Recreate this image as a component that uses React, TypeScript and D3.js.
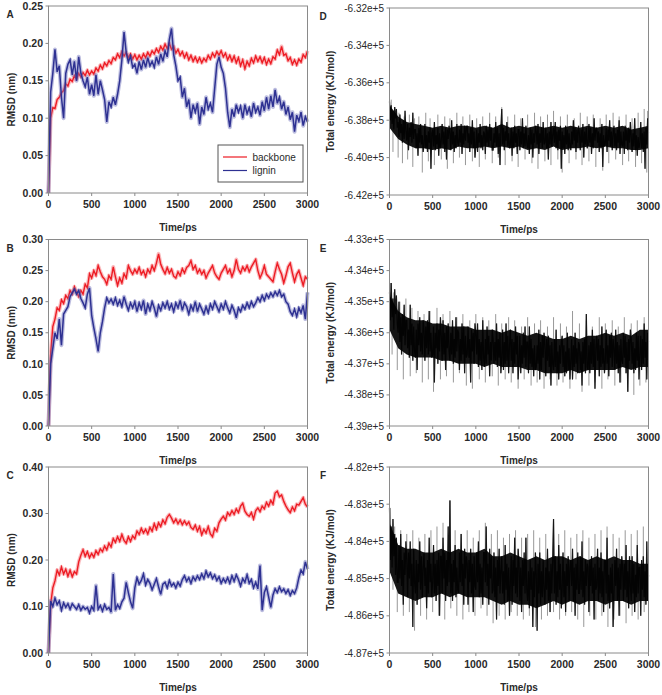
import React from 'react';
import * as d3 from 'd3';

// ---------- data ----------
const RMSD_STEP = 25; // ps between RMSD samples
const ENERGY_STEP = 10; // ps between energy samples
const CORE_STEP = 100; // ps between samples of the dense energy band
const xTicks = [0, 500, 1000, 1500, 2000, 2500, 3000];
const legendLabels = ['backbone', 'lignin'];

const aYTicks = [0, 0.05, 0.1, 0.15, 0.2, 0.25];
const bYTicks = [0, 0.05, 0.1, 0.15, 0.2, 0.25, 0.3];
const cYTicks = [0, 0.1, 0.2, 0.3, 0.4];
const dYTicks = [-642000, -640000, -638000, -636000, -634000, -632000];
const eYTicks = [-439000, -438000, -437000, -436000, -435000, -434000, -433000];
const fYTicks = [-487000, -486000, -485000, -484000, -483000, -482000];

const aBackbone = [0, 0.1, 0.114, 0.113, 0.125, 0.128, 0.134, 0.137, 0.146, 0.143, 0.152, 0.149, 0.157, 0.152, 0.16, 0.155, 0.161, 0.157, 0.164, 0.158, 0.163, 0.159, 0.167, 0.163, 0.171, 0.166, 0.174, 0.17, 0.177, 0.173, 0.181, 0.178, 0.186, 0.181, 0.189, 0.183, 0.188, 0.181, 0.186, 0.179, 0.185, 0.178, 0.184, 0.179, 0.186, 0.181, 0.188, 0.183, 0.19, 0.186, 0.193, 0.188, 0.196, 0.191, 0.199, 0.193, 0.2, 0.192, 0.196, 0.187, 0.192, 0.184, 0.189, 0.181, 0.187, 0.178, 0.184, 0.176, 0.182, 0.175, 0.181, 0.174, 0.18, 0.176, 0.184, 0.179, 0.187, 0.182, 0.189, 0.184, 0.19, 0.182, 0.187, 0.178, 0.184, 0.176, 0.183, 0.174, 0.181, 0.17, 0.178, 0.166, 0.176, 0.17, 0.18, 0.174, 0.183, 0.176, 0.182, 0.174, 0.181, 0.172, 0.179, 0.173, 0.182, 0.179, 0.191, 0.185, 0.196, 0.184, 0.186, 0.177, 0.181, 0.172, 0.178, 0.171, 0.179, 0.175, 0.185, 0.181, 0.19];
const aLignin = [0, 0.135, 0.16, 0.192, 0.162, 0.17, 0.128, 0.1, 0.16, 0.172, 0.178, 0.158, 0.176, 0.15, 0.182, 0.16, 0.15, 0.142, 0.155, 0.132, 0.145, 0.13, 0.158, 0.132, 0.15, 0.138, 0.125, 0.095, 0.122, 0.115, 0.128, 0.118, 0.132, 0.15, 0.178, 0.215, 0.188, 0.175, 0.183, 0.168, 0.172, 0.16, 0.176, 0.165, 0.178, 0.168, 0.181, 0.17, 0.176, 0.168, 0.182, 0.172, 0.186, 0.176, 0.19, 0.182, 0.205, 0.22, 0.185, 0.17, 0.15, 0.155, 0.128, 0.14, 0.115, 0.125, 0.1, 0.118, 0.108, 0.12, 0.092, 0.115, 0.105, 0.128, 0.112, 0.12, 0.108, 0.14, 0.172, 0.182, 0.168, 0.16, 0.14, 0.108, 0.088, 0.112, 0.102, 0.118, 0.108, 0.116, 0.1, 0.118, 0.106, 0.114, 0.102, 0.12, 0.108, 0.115, 0.104, 0.122, 0.11, 0.128, 0.112, 0.13, 0.115, 0.138, 0.12, 0.128, 0.112, 0.122, 0.105, 0.115, 0.098, 0.108, 0.082, 0.104, 0.096, 0.108, 0.09, 0.102, 0.095];

const bBackbone = [0, 0.115, 0.16, 0.172, 0.19, 0.186, 0.203, 0.197, 0.21, 0.205, 0.218, 0.212, 0.224, 0.215, 0.208, 0.218, 0.212, 0.228, 0.222, 0.245, 0.238, 0.25, 0.242, 0.258, 0.248, 0.24, 0.236, 0.228, 0.242, 0.236, 0.256, 0.24, 0.226, 0.238, 0.23, 0.245, 0.238, 0.258, 0.25, 0.244, 0.252, 0.246, 0.255, 0.244, 0.25, 0.24, 0.252, 0.246, 0.258, 0.25, 0.262, 0.277, 0.26, 0.252, 0.245, 0.255, 0.246, 0.252, 0.241, 0.238, 0.248, 0.242, 0.253, 0.246, 0.255, 0.258, 0.266, 0.252, 0.258, 0.246, 0.252, 0.244, 0.25, 0.238, 0.246, 0.252, 0.258, 0.246, 0.24, 0.236, 0.246, 0.252, 0.258, 0.246, 0.252, 0.24, 0.25, 0.268, 0.252, 0.246, 0.256, 0.25, 0.258, 0.248, 0.256, 0.262, 0.268, 0.25, 0.238, 0.246, 0.258, 0.244, 0.24, 0.236, 0.232, 0.248, 0.262, 0.252, 0.244, 0.23, 0.242, 0.256, 0.262, 0.246, 0.232, 0.244, 0.25, 0.238, 0.226, 0.24, 0.236];
const bLignin = [0, 0.1, 0.125, 0.15, 0.14, 0.172, 0.13, 0.18, 0.186, 0.192, 0.208, 0.214, 0.22, 0.212, 0.218, 0.205, 0.198, 0.19, 0.212, 0.222, 0.178, 0.158, 0.14, 0.12, 0.15, 0.168, 0.19, 0.206, 0.198, 0.204, 0.196, 0.206, 0.194, 0.202, 0.192, 0.208, 0.196, 0.186, 0.198, 0.19, 0.2, 0.184, 0.198, 0.188, 0.202, 0.18, 0.196, 0.186, 0.2, 0.19, 0.176, 0.194, 0.186, 0.198, 0.19, 0.2, 0.188, 0.196, 0.184, 0.198, 0.19, 0.202, 0.186, 0.198, 0.192, 0.18, 0.194, 0.186, 0.2, 0.184, 0.196, 0.188, 0.18, 0.192, 0.182, 0.196, 0.188, 0.2, 0.192, 0.184, 0.196, 0.188, 0.2, 0.19, 0.182, 0.194, 0.186, 0.174, 0.19, 0.184, 0.194, 0.188, 0.198, 0.19, 0.2, 0.192, 0.198, 0.206, 0.2, 0.21, 0.202, 0.212, 0.206, 0.214, 0.208, 0.216, 0.21, 0.218, 0.208, 0.212, 0.2, 0.196, 0.184, 0.178, 0.188, 0.176, 0.19, 0.182, 0.194, 0.172, 0.215];

const cBackbone = [0, 0.105, 0.14, 0.155, 0.178, 0.168, 0.185, 0.17, 0.18, 0.165, 0.178, 0.164, 0.175, 0.17, 0.196, 0.21, 0.222, 0.208, 0.218, 0.205, 0.214, 0.206, 0.22, 0.212, 0.224, 0.218, 0.23, 0.222, 0.236, 0.228, 0.246, 0.238, 0.25, 0.24, 0.255, 0.242, 0.236, 0.25, 0.24, 0.252, 0.246, 0.262, 0.255, 0.268, 0.258, 0.266, 0.256, 0.27, 0.262, 0.278, 0.266, 0.28, 0.272, 0.286, 0.278, 0.292, 0.298, 0.29, 0.28, 0.288, 0.278, 0.286, 0.276, 0.284, 0.276, 0.282, 0.27, 0.266, 0.275, 0.262, 0.272, 0.254, 0.266, 0.258, 0.272, 0.256, 0.25, 0.268, 0.262, 0.28, 0.288, 0.294, 0.286, 0.302, 0.296, 0.306, 0.298, 0.31, 0.302, 0.316, 0.322, 0.305, 0.298, 0.294, 0.302, 0.288, 0.306, 0.312, 0.304, 0.316, 0.31, 0.324, 0.316, 0.328, 0.32, 0.344, 0.348, 0.336, 0.34, 0.326, 0.316, 0.308, 0.302, 0.314, 0.306, 0.32, 0.318, 0.326, 0.334, 0.32, 0.314];
const cLignin = [0, 0.112, 0.1, 0.118, 0.104, 0.112, 0.092, 0.108, 0.098, 0.106, 0.094, 0.106, 0.1, 0.094, 0.104, 0.092, 0.1, 0.094, 0.098, 0.086, 0.1, 0.092, 0.145, 0.094, 0.102, 0.09, 0.104, 0.094, 0.098, 0.088, 0.17, 0.092, 0.104, 0.096, 0.11, 0.118, 0.152, 0.13, 0.11, 0.096, 0.14, 0.162, 0.148, 0.156, 0.17, 0.146, 0.158, 0.15, 0.136, 0.148, 0.16, 0.142, 0.126, 0.148, 0.152, 0.14, 0.156, 0.144, 0.15, 0.14, 0.152, 0.144, 0.158, 0.166, 0.154, 0.162, 0.15, 0.164, 0.156, 0.166, 0.158, 0.17, 0.16, 0.176, 0.164, 0.172, 0.16, 0.168, 0.156, 0.164, 0.15, 0.16, 0.152, 0.162, 0.15, 0.166, 0.154, 0.168, 0.158, 0.144, 0.16, 0.152, 0.168, 0.15, 0.158, 0.14, 0.152, 0.138, 0.188, 0.092, 0.13, 0.142, 0.12, 0.098, 0.125, 0.138, 0.13, 0.142, 0.132, 0.138, 0.128, 0.136, 0.124, 0.134, 0.128, 0.14, 0.162, 0.178, 0.17, 0.196, 0.18];

// total energy (kJ/mol), one value every 10 ps
const dEnergy = [
  -637000, -638000, -637200, -638200, -637500, -638500, -637300, -637900, -637400, -638400,
  -638100, -638900, -637700, -638700, -638200, -639200, -638000, -639000, -637500, -638600,
  -639100, -638200, -639600, -638400, -638900, -638100, -639200, -637600, -639000, -638500,
  -638500, -639500, -638700, -639900, -638400, -639200, -638200, -639300, -638800, -639700,
  -639300, -638200, -639500, -638800, -639700, -638600, -639200, -638400, -640600, -638700,
  -638500, -639400, -638100, -639600, -638800, -639300, -638400, -639900, -638700, -639500,
  -639100, -638200, -639300, -638600, -639700, -638400, -640100, -638500, -639000, -638300,
  -638700, -639600, -638000, -639300, -638600, -639700, -638800, -639500, -638200, -639200,
  -639400, -638500, -639200, -638200, -639800, -638700, -639300, -638300, -639100, -638400,
  -638300, -639200, -638700, -639700, -638400, -639300, -638000, -639500, -638600, -640000,
  -639400, -638500, -639700, -638700, -639200, -638200, -639500, -638800, -639600, -638600,
  -638700, -639800, -638300, -639200, -638500, -639400, -638200, -639100, -638400, -639600,
  -639600, -638700, -639200, -638100, -639400, -638400, -639800, -638700, -640400, -638500,
  -637400, -639300, -638400, -639600, -638600, -639100, -638100, -639400, -638700, -639500,
  -639300, -638400, -639900, -638600, -639500, -638300, -639200, -638700, -639800, -638500,
  -638500, -639600, -638600, -639300, -637900, -639500, -638700, -639400, -638300, -639200,
  -639500, -638800, -639800, -638400, -639300, -638500, -640000, -638700, -639200, -638300,
  -638600, -639300, -638200, -639800, -638700, -639200, -638400, -639500, -638100, -639300,
  -639200, -638400, -639500, -638700, -640100, -638600, -639300, -638100, -639400, -638800,
  -638400, -639200, -638100, -639500, -638600, -639600, -638500, -639100, -638300, -640600,
  -638600, -639500, -638800, -639800, -638300, -639300, -638500, -639600, -638700, -639400,
  -639600, -638600, -639300, -638000, -639100, -638400, -639700, -638500, -639200, -638300,
  -638700, -639600, -638500, -639200, -638200, -640000, -638600, -639300, -638400, -639500,
  -639300, -638200, -639200, -638400, -639800, -638700, -639500, -637900, -639100, -638500,
  -638400, -639200, -638600, -639700, -638700, -639500, -638200, -640500, -638800, -639400,
  -639200, -638400, -639700, -638500, -639100, -638000, -639400, -638600, -639600, -638700,
  -638300, -639400, -638700, -639600, -638500, -639200, -638000, -639800, -638600, -639300,
  -639400, -638600, -639800, -638300, -639100, -638500, -639600, -638400, -639200, -638100,
  -638900, -639700, -638700, -639400, -637900, -639600, -638800, -639900, -638900, -639500,
  -639200, -638100, -639500, -638700, -639700, -638600, -640600, -638400, -639300, -637900,
  -638700
];
const eEnergy = [
  -434700, -435600, -434400, -435500, -434900, -435900, -434600, -435400, -434800, -435700,
  -436000, -435000, -436300, -435500, -436700, -435400, -436100, -435100, -436400, -435600,
  -435600, -436500, -435900, -436800, -435100, -436400, -435700, -436900, -435800, -436600,
  -436800, -435900, -437200, -435700, -436400, -435500, -436600, -436000, -436700, -435600,
  -435900, -436900, -435800, -436500, -435600, -436700, -435300, -436600, -436000, -436800,
  -436700, -435800, -437600, -436000, -436500, -435700, -437000, -435900, -436600, -435500,
  -436100, -436900, -435600, -436700, -436000, -437200, -435800, -436500, -435700, -436600,
  -436900, -436000, -436700, -435600, -437000, -436200, -436800, -435500, -436600, -435900,
  -436000, -437200, -436200, -436900, -435700, -436700, -435800, -437300, -436100, -436800,
  -436700, -435800, -436800, -436200, -437600, -435900, -436600, -436000, -437000, -435700,
  -436000, -436700, -435700, -437100, -436200, -436900, -436300, -437200, -435600, -436800,
  -437100, -436200, -437000, -435800, -436700, -436100, -437400, -436300, -436900, -435900,
  -436200, -437000, -436300, -436900, -435700, -437100, -436200, -436800, -436000, -437300,
  -436800, -435900, -437200, -436300, -437000, -435700, -436900, -436100, -437300, -436400,
  -435900, -436900, -436200, -437300, -436300, -437000, -435800, -436700, -436100, -437500,
  -436900, -436100, -437300, -436400, -437000, -436000, -436800, -435800, -437100, -436300,
  -436300, -437300, -435800, -437000, -436200, -437100, -436500, -437400, -436400, -437200,
  -437100, -436400, -437000, -435900, -437500, -436300, -437200, -436100, -436800, -436000,
  -436400, -437400, -436200, -436900, -436100, -437100, -436400, -437700, -436300, -437000,
  -437200, -436200, -437100, -435900, -437300, -436600, -437500, -436400, -437000, -436300,
  -436100, -437100, -436400, -437400, -436600, -437300, -436000, -437200, -436500, -437500,
  -436900, -436200, -437500, -436400, -437100, -436000, -437000, -436500, -437300, -436300,
  -436400, -437200, -436600, -437700, -436300, -437000, -436200, -437300, -435400, -437100,
  -437200, -436400, -437300, -436300, -437000, -435900, -437100, -436200, -437800, -436500,
  -436100, -436900, -436200, -437400, -436400, -437100, -435800, -437000, -436500, -437300,
  -436900, -435900, -437000, -436400, -437400, -436100, -436800, -436000, -437100, -436200,
  -436500, -437200, -435900, -437000, -436300, -437300, -436400, -437600, -436200, -436900,
  -437000, -436000, -436800, -436100, -437300, -436300, -437900, -436200, -436900, -435900,
  -436200, -437000, -436300, -437300, -436500, -437200, -436000, -436900, -436100, -437500,
  -436700, -436100, -437200, -436200, -437000, -435700, -436800, -436300, -437500, -436000,
  -436300
];
const fEnergy = [
  -483100, -484500, -483600, -484700, -483400, -484400, -483800, -484900, -483900, -485100,
  -485100, -484100, -485000, -483800, -485200, -484500, -485700, -484300, -484900, -484000,
  -484500, -485500, -484300, -485000, -484000, -485200, -484600, -486300, -484200, -485100,
  -485400, -484500, -485700, -484600, -485100, -484000, -485300, -484400, -485500, -484700,
  -484300, -485200, -484700, -485800, -484500, -485400, -483900, -485100, -484600, -485500,
  -485100, -484100, -485400, -484600, -485600, -484500, -485200, -484300, -486000, -484400,
  -484400, -485400, -483900, -485000, -484300, -485600, -484500, -485200, -483600, -485100,
  -482900, -485400, -484600, -485600, -484500, -485100, -484100, -485500, -484700, -485300,
  -485400, -484300, -485100, -483800, -485200, -484600, -485700, -484200, -485000, -484400,
  -484600, -485700, -484500, -485100, -484200, -485400, -484600, -485900, -484400, -485200,
  -485300, -484300, -485100, -484000, -485500, -484600, -485400, -484700, -485700, -484300,
  -484300, -485100, -483600, -485200, -484600, -485700, -484200, -485000, -484400, -485400,
  -485300, -484300, -485500, -484700, -486100, -484500, -485200, -484200, -485400, -484800,
  -484400, -485400, -484800, -485700, -484100, -485300, -484600, -485600, -484700, -486000,
  -485100, -484400, -485700, -484500, -485200, -483900, -485400, -484700, -485500, -484200,
  -484600, -485600, -484700, -485900, -484500, -485200, -484300, -485400, -483900, -485300,
  -485600, -484800, -485800, -484500, -485300, -484700, -486300, -484800, -485500, -484300,
  -484900, -486400, -484600, -485400, -484300, -485700, -484800, -485500, -484500, -485300,
  -485700, -484700, -485300, -484200, -485600, -484800, -485900, -484600, -485400, -484500,
  -483400, -485400, -484400, -485700, -484800, -485500, -484100, -485300, -484600, -485800,
  -485300, -484300, -485500, -484800, -485900, -484600, -485200, -484400, -485600, -484700,
  -484500, -485200, -484200, -485600, -484700, -486000, -484600, -485300, -484300, -485400,
  -485400, -484400, -485300, -484000, -485500, -484800, -485700, -484500, -485200, -484600,
  -484700, -485900, -484500, -485200, -484400, -485400, -484700, -486100, -484600, -485300,
  -485200, -484200, -485600, -484700, -485400, -484300, -485500, -484800, -485900, -484500,
  -484500, -485400, -483900, -485600, -484900, -485800, -484700, -485400, -484600, -486300,
  -485400, -484500, -485200, -484200, -485600, -484700, -486000, -484600, -485300, -484400,
  -484700, -485600, -484600, -485300, -484100, -485500, -484800, -485800, -484400, -485200,
  -485600, -484400, -485400, -484600, -485900, -484900, -485500, -484100, -485400, -484700,
  -484700, -486000, -484500, -485300, -484400, -485500, -484800, -485700, -484000, -485600,
  -484900
];

// dense (solid black) part of each energy trace: upper and lower edge every 100 ps
const dCoreHi = [-637200, -637800, -638100, -638200, -638300, -638400, -638300, -638400, -638300, -638300, -638400, -638300, -638400, -638200, -638400, -638300, -638400, -638300, -638400, -638300, -638400, -638300, -638400, -638300, -638400, -638300, -638400, -638300, -638500, -638400, -638300];
const dCoreLo = [-638400, -639000, -639300, -639500, -639500, -639600, -639500, -639600, -639400, -639500, -639500, -639400, -639500, -639400, -639500, -639400, -639600, -639500, -639600, -639400, -639600, -639500, -639500, -639400, -639500, -639400, -639500, -639500, -639600, -639600, -639500];
const eCoreHi = [-434800, -435300, -435500, -435600, -435600, -435700, -435700, -435800, -435800, -435800, -435900, -435900, -435900, -436000, -435900, -436000, -436100, -436000, -436100, -436200, -436200, -436100, -436200, -436100, -436100, -436000, -436100, -436000, -436100, -435900, -435900];
const eCoreLo = [-435900, -436500, -436700, -436800, -436800, -436800, -436900, -436900, -437000, -437000, -437000, -437100, -437000, -437100, -437100, -437100, -437200, -437200, -437300, -437300, -437300, -437200, -437300, -437200, -437200, -437200, -437200, -437100, -437200, -437100, -437100];
const fCoreHi = [-483500, -484100, -484200, -484200, -484300, -484300, -484200, -484300, -484200, -484300, -484300, -484200, -484400, -484400, -484300, -484400, -484500, -484400, -484500, -484400, -484400, -484500, -484400, -484500, -484400, -484500, -484400, -484500, -484500, -484600, -484600];
const fCoreLo = [-484800, -485400, -485500, -485600, -485500, -485500, -485400, -485500, -485400, -485500, -485500, -485500, -485600, -485700, -485600, -485700, -485700, -485800, -485700, -485600, -485700, -485600, -485700, -485600, -485600, -485700, -485600, -485600, -485700, -485600, -485600];

// isolated excursions visible outside the dense band: [time ps, energy kJ/mol]
const dOutliers = [[20, -636900], [60, -637300], [110, -637600], [170, -637800], [230, -637700], [290, -637900], [340, -637800], [420, -637600], [470, -637900], [560, -637700], [640, -637800], [700, -637900], [780, -637600], [850, -637800], [930, -637700], [1010, -637900], [1080, -637800], [1160, -637600], [1230, -637800], [1300, -637300], [1370, -637800], [1450, -637700], [1520, -637900], [1600, -637700], [1680, -637600], [1750, -637800], [1830, -637700], [1900, -637500], [1980, -637800], [2060, -637700], [2140, -637900], [2210, -637600], [2290, -637800], [2360, -637700], [2440, -637900], [2510, -637700], [2590, -637600], [2660, -637800], [2740, -637700], [2810, -637900], [2880, -637600], [2950, -637400], [2990, -637500], [40, -639700], [100, -640000], [150, -640300], [210, -640100], [270, -640500], [380, -640800], [450, -640200], [520, -640400], [600, -640100], [670, -640600], [740, -640300], [810, -640000], [880, -640400], [960, -640200], [1040, -640500], [1110, -640100], [1190, -640300], [1260, -640000], [1340, -640400], [1420, -640200], [1490, -640500], [1570, -640100], [1650, -640300], [1720, -640600], [1800, -640200], [1870, -640400], [1950, -640100], [2000, -640800], [2080, -640300], [2160, -640100], [2230, -640400], [2310, -640200], [2390, -640500], [2470, -640700], [2540, -640300], [2620, -640100], [2700, -640400], [2770, -640200], [2850, -640500], [2920, -640300], [2980, -640800]];
const eOutliers = [[10, -434400], [50, -434700], [120, -435000], [190, -434900], [260, -435200], [330, -435300], [400, -435400], [470, -435300], [550, -435200], [620, -435400], [700, -435300], [780, -435500], [850, -435400], [930, -435600], [1000, -435400], [1080, -435500], [1150, -435600], [1230, -435400], [1300, -435700], [1380, -435500], [1450, -435600], [1530, -435800], [1600, -435500], [1680, -435700], [1750, -435600], [1830, -435800], [1900, -435500], [1980, -435700], [2050, -435800], [2120, -435300], [2200, -435700], [2280, -435600], [2350, -435800], [2430, -435500], [2500, -435700], [2580, -435600], [2650, -435800], [2720, -435500], [2800, -435700], [2870, -435600], [2950, -435500], [30, -436700], [90, -437200], [160, -437500], [240, -437400], [310, -437300], [380, -437600], [450, -437500], [510, -437900], [590, -437500], [660, -437400], [740, -437600], [810, -437300], [890, -437700], [960, -437800], [1040, -437500], [1110, -437600], [1190, -437400], [1260, -437700], [1340, -437500], [1410, -437600], [1490, -437800], [1560, -437500], [1640, -437700], [1710, -437600], [1790, -437800], [1860, -437500], [1940, -437700], [2010, -437600], [2090, -437800], [2160, -437500], [2230, -437900], [2310, -437700], [2380, -437600], [2460, -437800], [2530, -437500], [2610, -437700], [2680, -437600], [2760, -437900], [2830, -438000], [2900, -437700], [2970, -437600]];
const fOutliers = [[10, -483100], [60, -483600], [130, -483700], [200, -483800], [270, -483700], [340, -483900], [410, -483800], [480, -483700], [550, -483600], [620, -483500], [700, -482900], [760, -483700], [830, -483800], [900, -483700], [970, -483900], [1040, -483700], [1110, -483500], [1180, -483800], [1250, -483700], [1320, -483900], [1390, -483800], [1460, -483700], [1530, -483900], [1600, -483800], [1670, -483700], [1740, -483900], [1810, -483800], [1900, -483400], [1960, -483800], [2030, -483700], [2100, -483900], [2170, -483800], [2240, -483700], [2310, -483900], [2380, -483800], [2450, -483700], [2520, -483600], [2590, -483800], [2660, -483900], [2730, -483700], [2800, -483800], [2870, -483700], [2940, -483600], [40, -485300], [90, -485900], [160, -486000], [230, -485900], [290, -486400], [360, -486000], [430, -486100], [500, -485900], [570, -486000], [640, -486100], [710, -485800], [780, -486000], [850, -486100], [920, -485900], [990, -486000], [1060, -485800], [1130, -486000], [1200, -486200], [1270, -486000], [1340, -486100], [1410, -485900], [1480, -486000], [1550, -486100], [1620, -486000], [1690, -486300], [1760, -486100], [1830, -486000], [1900, -485900], [1970, -486100], [2040, -486000], [2110, -485900], [2180, -486100], [2250, -486300], [2320, -486000], [2390, -486100], [2460, -486000], [2530, -486300], [2600, -486100], [2670, -486000], [2740, -486200], [2810, -486000], [2880, -486100], [2950, -485900]];

// ---------- styling ----------
const FONT = 'Liberation Sans, Arial, Helvetica, sans-serif';
const RED = '#ed1c24';
const BLUE = '#2e3192';
const AXIS = '#8a8a8a';
const TEXT = '#2a2a2a';

const LEFT = { x0: 48.5, x1: 307.5 };
const RIGHT = { x0: 389.5, x1: 648.5 };

function Axes({ f, x, y, yTicks, fmt, yBold, yTitle, letter, letterX, titleX }: any) {
  return (
    <g>
      <rect x={f.x0} y={f.top} width={f.x1 - f.x0} height={f.bottom - f.top} fill="none" stroke={AXIS} strokeWidth={1} />
      {yTicks.map((t: number) => (
        <g key={'y' + t}>
          <line x1={f.x0 - 3} x2={f.x0} y1={y(t)} y2={y(t)} stroke={AXIS} />
          <text x={f.x0 - 5.5} y={y(t)} dy="0.35em" textAnchor="end" fontSize={yBold ? 10.5 : 10} fontWeight={yBold ? 'bold' : 'normal'} fill={TEXT} fontFamily={FONT}>
            {fmt(t)}
          </text>
        </g>
      ))}
      {xTicks.map((t) => (
        <g key={'x' + t}>
          <line x1={x(t)} x2={x(t)} y1={f.bottom} y2={f.bottom + 3} stroke={AXIS} />
          <text x={x(t)} y={f.bottom + 14.5} textAnchor="middle" fontSize={10.5} fontWeight="bold" fill={TEXT} fontFamily={FONT}>
            {t}
          </text>
        </g>
      ))}
      <text x={(f.x0 + f.x1) / 2} y={f.bottom + 37.5} textAnchor="middle" fontSize={10} fontWeight="bold" fill={TEXT} fontFamily={FONT}>
        Time/ps
      </text>
      <text transform={`translate(${titleX},${(f.top + f.bottom) / 2}) rotate(-90)`} textAnchor="middle" fontSize={10} fontWeight="bold" fill={TEXT} fontFamily={FONT}>
        {yTitle}
      </text>
      <text x={letterX} y={f.top + 12} textAnchor="middle" fontSize={10} fontWeight="bold" fill={TEXT} fontFamily={FONT}>
        {letter}
      </text>
    </g>
  );
}

function RmsdPanel({ f, yMax, yTicks, backbone, lignin, letter, legend }: any) {
  const x = d3.scaleLinear().domain([0, 3000]).range([f.x0, f.x1]);
  const y = d3.scaleLinear().domain([0, yMax]).range([f.bottom, f.top]);
  const line = d3.line<number>().x((_, i) => x(i * RMSD_STEP)).y((d) => y(d));
  const fmt = d3.format('.2f');
  return (
    <g>
      <path d={line(backbone) || ''} fill="none" stroke={RED} strokeOpacity={0.3} strokeWidth={3.8} strokeLinejoin="round" />
      <path d={line(backbone) || ''} fill="none" stroke={RED} strokeWidth={1.4} />
      <path d={line(lignin) || ''} fill="none" stroke="#6a6db8" strokeOpacity={0.45} strokeWidth={4} strokeLinejoin="round" />
      <path d={line(lignin) || ''} fill="none" stroke={BLUE} strokeWidth={1.5} />
      <Axes f={f} x={x} y={y} yTicks={yTicks} fmt={fmt} yBold yTitle="RMSD (nm)" letter={letter} letterX={10} titleX={15} />
      {legend && (
        <g fontFamily={FONT} fontSize={10} fill={TEXT}>
          <rect x={218} y={145} width={85} height={37} fill="#fff" stroke="#555" strokeWidth={1} />
          <line x1={223} x2={247} y1={157} y2={157} stroke={RED} strokeWidth={1.2} />
          <text x={252.5} y={157} dy="0.35em">{legendLabels[0]}</text>
          <line x1={223} x2={247} y1={170.5} y2={170.5} stroke={BLUE} strokeWidth={1.2} />
          <text x={252.5} y={170.5} dy="0.35em">{legendLabels[1]}</text>
        </g>
      )}
    </g>
  );
}

function EnergyPanel({ f, yTicks, values, coreHi, coreLo, outliers, letter }: any) {
  const x = d3.scaleLinear().domain([0, 3000]).range([f.x0, f.x1]);
  const y = d3.scaleLinear().domain([yTicks[0], yTicks[yTicks.length - 1]]).range([f.bottom, f.top]);
  const line = d3.line<number>().x((_, i) => x(i * ENERGY_STEP)).y((d) => y(d));
  const band = d3
    .area<number>()
    .x((_, i) => x(i * CORE_STEP))
    .y0((_, i) => y(coreLo[i]))
    .y1((d) => y(d));
  const fmt = (v: number) => (v / 1e5).toFixed(2) + 'e+5';
  return (
    <g>
      <path d={line(values) || ''} fill="none" stroke="#9a9a9a" strokeWidth={1} />
      {outliers.map(([t, v]: number[], i: number) => {
        const k = Math.round(t / CORE_STEP);
        const base = (coreHi[k] + coreLo[k]) / 2;
        return <line key={i} x1={x(t)} x2={x(t)} y1={y(v)} y2={y(base)} stroke="#8c8c8c" strokeWidth={0.9} />;
      })}
      <path d={band(coreHi) || ''} fill="#151515" />
      <path d={line(values) || ''} fill="none" stroke="#000" strokeWidth={1.2} strokeOpacity={0.85} />
      <Axes f={f} x={x} y={y} yTicks={yTicks} fmt={fmt} yBold={false} yTitle="Total energy (KJ/mol)" letter={letter} letterX={323} titleX={334} />
    </g>
  );
}

export default function App() {
  const rowsL = [
    { top: 6, bottom: 193 },
    { top: 239.5, bottom: 426 },
    { top: 467, bottom: 653 },
  ];
  const rowsR = [
    { top: 8, bottom: 195 },
    { top: 239.5, bottom: 426 },
    { top: 467, bottom: 653 },
  ];
  return (
    <svg width={662} height={695} style={{ position: 'absolute', left: 0, top: 0, background: '#fff' }}>
      <rect width={662} height={695} fill="#fff" />
      <RmsdPanel f={{ ...LEFT, ...rowsL[0] }} yMax={0.25} yTicks={aYTicks} backbone={aBackbone} lignin={aLignin} letter="A" legend />
      <RmsdPanel f={{ ...LEFT, ...rowsL[1] }} yMax={0.3} yTicks={bYTicks} backbone={bBackbone} lignin={bLignin} letter="B" />
      <RmsdPanel f={{ ...LEFT, ...rowsL[2] }} yMax={0.4} yTicks={cYTicks} backbone={cBackbone} lignin={cLignin} letter="C" />
      <EnergyPanel f={{ ...RIGHT, ...rowsR[0] }} yTicks={dYTicks} values={dEnergy} coreHi={dCoreHi} coreLo={dCoreLo} outliers={dOutliers} letter="D" />
      <EnergyPanel f={{ ...RIGHT, ...rowsR[1] }} yTicks={eYTicks} values={eEnergy} coreHi={eCoreHi} coreLo={eCoreLo} outliers={eOutliers} letter="E" />
      <EnergyPanel f={{ ...RIGHT, ...rowsR[2] }} yTicks={fYTicks} values={fEnergy} coreHi={fCoreHi} coreLo={fCoreLo} outliers={fOutliers} letter="F" />
    </svg>
  );
}
